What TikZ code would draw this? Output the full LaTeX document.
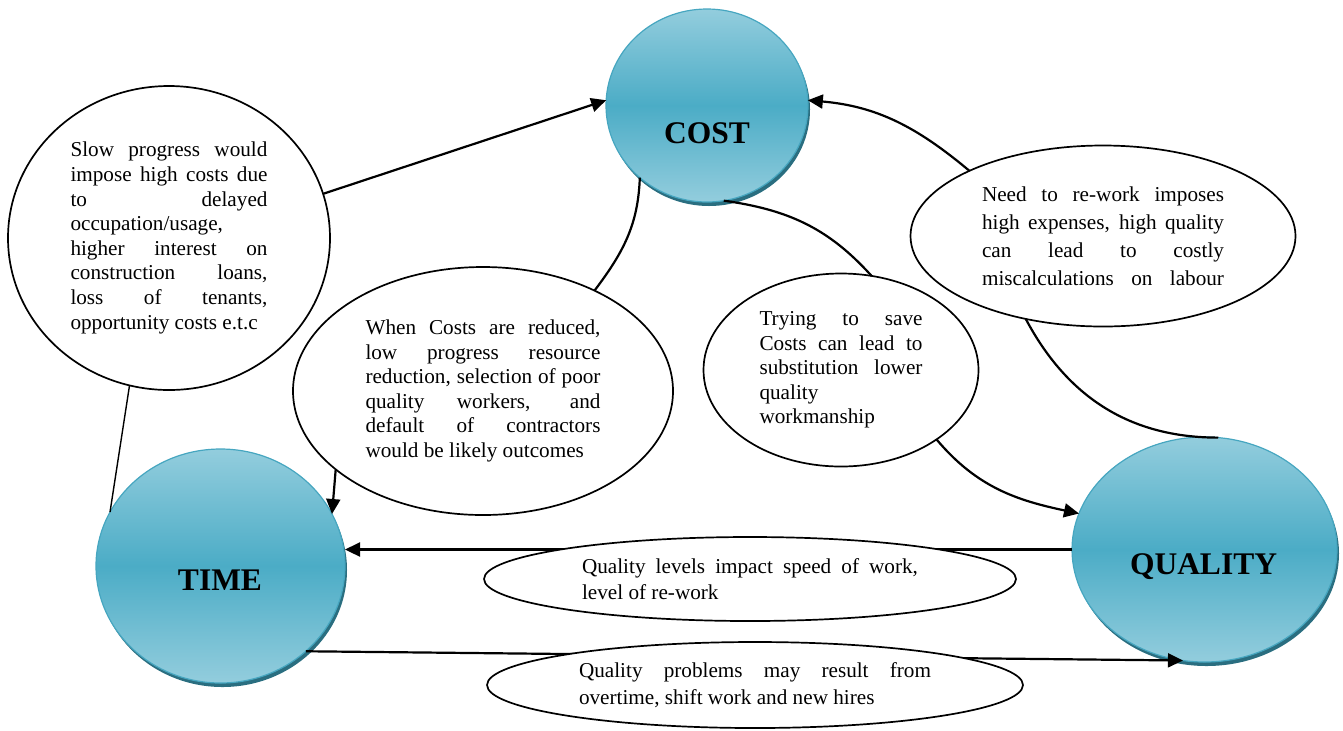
\documentclass[tikz,border=0pt]{standalone}
\usepackage{fontspec}
\setmainfont{Liberation Serif}
\usetikzlibrary{shapes.geometric,arrows.meta,shadows}
\definecolor{hubtop}{HTML}{93CDDD}
\definecolor{hubmid}{HTML}{4BACC6}
\definecolor{hubline}{HTML}{46A6C0}
\definecolor{hubshade}{HTML}{2A6E80}
\hbadness=10000
\tolerance=10000

\begin{document}
\begin{tikzpicture}[x=0.5pt,y=-0.5pt,
  hub/.style={ellipse,draw=hubline,line width=0.6pt,inner sep=0pt,outer sep=0pt,
    top color=hubtop,bottom color=hubtop,middle color=hubmid,
    drop shadow={shadow xshift=1pt,shadow yshift=-2pt,fill=hubshade,opacity=1}},
  hubname/.style={font=\fontsize{15.75}{18}\selectfont\bfseries},
  blob/.style={ellipse,draw,fill=white,line width=0.85pt,inner sep=0pt,outer sep=0pt,
    align=justify,font=\fontsize{10.6}{12.3}\selectfont},
  link/.style={line width=1.1pt},
  flow/.style={link,-{Triangle[length=7.5pt,width=7pt]}}]
\useasboundingbox (0,0) rectangle (1343,730);

% the three corners
\node (cost) [hub,minimum width=101pt,minimum height=96.5pt] at (707,105.5) {};
\node (time) [hub,minimum width=124.5pt,minimum height=117pt] at (220.5,566) {};
\node (quality) [hub,minimum width=132.5pt,minimum height=112.5pt] at (1204.5,549.5) {};
\node (costlbl) [hubname] at (707,133) {COST};
\node (timelbl) [hubname] at (220,580) {TIME};
\node (qualitylbl) [hubname] at (1203.5,567) {QUALITY};

% notes
\node (slowprog) [blob,minimum width=161pt,minimum height=152pt,text width=98.5pt] at (169,238)
  {Slow progress would\linebreak impose high costs due\linebreak to delayed\linebreak
   occupation/usage,\newline higher interest on\linebreak construction loans,\linebreak
   loss of tenants,\linebreak \mbox{opportunity costs e.t.c}};
\node (costcut) [blob,minimum width=190pt,minimum height=124pt,text width=117.5pt] at (483,391)
  {When Costs are reduced,\linebreak low progress resource\linebreak reduction, selection of poor\linebreak
   quality workers, and\linebreak default of contractors\linebreak would be likely outcomes};
\node (savecost) [blob,minimum width=137.5pt,minimum height=96.5pt,text width=81.5pt] at (841,370)
  {Trying to save\linebreak Costs can lead to\linebreak substitution lower\linebreak
   quality\newline workmanship};
\node (rework) [blob,minimum width=192.5pt,minimum height=90.5pt,text width=121pt,
  font=\fontsize{10.6}{14}\selectfont] at (1103,236)
  {Need to re-work imposes\linebreak high expenses, high quality\linebreak
   can lead to costly\linebreak \makebox[121pt][s]{miscalculations on labour}};

% links
\draw [flow] (slowprog.16) -- (cost.177);
\draw [link,line width=0.7pt] (slowprog.255) -- (time.154);
\draw [link] (cost.227) to[out=-92,in=53] (costcut.42);
\draw [flow] (costcut.208) -- (time.25);
\draw [link] (cost.-80) to[out=-8,in=132] (savecost.72);
\draw [flow] (savecost.-36) to[out=-50,in=168] (quality.164);
\draw [flow] (rework.154) to[out=140,in=-5] (cost.3);
\draw [link] (rework.227) to[out=-62,in=180] (quality.83);
\draw [flow] (quality.west) -- (quality.west -| time.east);
\draw [flow] (time.-45) -- (quality.259);

% notes on the lower links
\node (qualevel) [blob,minimum width=266pt,minimum height=42pt,text width=168pt,
  font=\fontsize{10.6}{13}\selectfont] at (750,579)
  {Quality levels impact speed of work,\linebreak level of re-work};
\node (qualprob) [blob,minimum width=268pt,minimum height=43pt,text width=176pt,
  font=\fontsize{10.6}{13.3}\selectfont] at (755,685)
  {Quality problems may result from\linebreak overtime, shift work and new hires};
\end{tikzpicture}
\end{document}
